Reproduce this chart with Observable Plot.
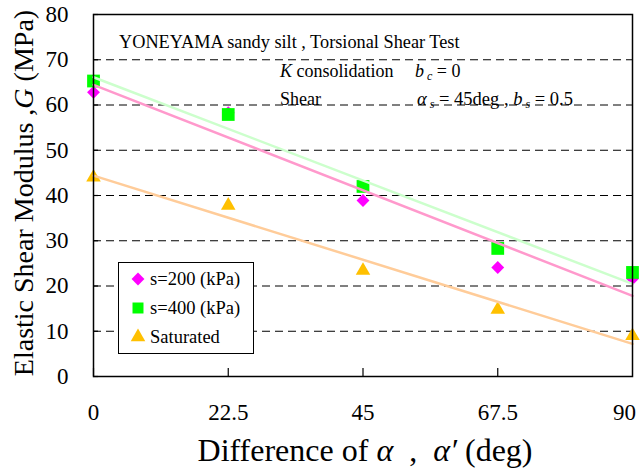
<!DOCTYPE html>
<html>
<head>
<meta charset="utf-8">
<script src="https://cdn.jsdelivr.net/npm/d3@7"></script>
<script src="https://cdn.jsdelivr.net/npm/@observablehq/plot@0.6"></script>
<style>
  html, body { margin: 0; padding: 0; background: white; }
  #chart { position: relative; width: 642px; height: 468px; }
</style>
</head>
<body>
<div id="chart"></div>
<script>
// ---- data ----
const angles = [0, 22.5, 45, 67.5, 90];
const s200 = [62.8, 58.3, 38.9, 24.1, 21.6];
const s400 = [65.3, 57.9, 42.0, 28.3, 23.0];
const saturated = [44.0, 37.8, 23.4, 14.8, 9.0];
const seriesNames = ["s=200 (kPa)", "s=400 (kPa)", "Saturated"];
const yTicks = [0, 10, 20, 30, 40, 50, 60, 70, 80];
const gridLines = [10, 20, 30, 40, 50, 60, 70];
const xTicks = [0, 22.5, 45, 67.5, 90];

const markerColors = ["#FF00FF", "#00FF00", "#FFC000"];
const lineColors = ["#FF99CC", "#CCFFCC", "#FFCC99"];

const seriesValues = [s200, s400, saturated];
const table = [];
seriesNames.forEach((name, i) => {
  angles.forEach((a, j) => table.push({series: name, idx: i, x: a, y: seriesValues[i][j]}));
});
const byName = n => table.filter(d => d.series === n);

const font = "'Liberation Serif', 'Times New Roman', serif";
const lastX = xTicks[xTicks.length - 1];

const plot = Plot.plot({
  width: 642,
  height: 468,
  marginLeft: 93,
  marginRight: 10,
  marginTop: 14,
  marginBottom: 92,
  style: {fontFamily: font, fontSize: "23px", color: "black", background: "white", overflow: "visible"},
  x: {domain: [0, 90], label: null},
  y: {domain: [0, 80], label: null},
  marks: [
    Plot.ruleY(gridLines, {stroke: "black", strokeWidth: 1, strokeDasharray: "8,5"}),
    Plot.axisY(yTicks, {tickSize: -5, tickPadding: 30, tickFormat: d => String(d), strokeWidth: 1.2}),
    Plot.axisX(xTicks.slice(0, -1), {tickSize: -8, tickPadding: 35, tickFormat: d => String(d), strokeWidth: 1.2}),
    Plot.axisX([lastX], {tickSize: 0, tickPadding: 27, tickFormat: d => String(d), dx: -8}),
    // markers: diamonds, triangles, squares
    Plot.dot(byName(seriesNames[0]), {x: "x", y: "y", symbol: "diamond2", r: 5.8, fill: markerColors[0], stroke: "none"}),
    Plot.dot(byName(seriesNames[2]), {x: "x", y: "y", symbol: "triangle", r: 5.4, fill: markerColors[2], stroke: "none"}),
    Plot.dot(byName(seriesNames[1]), {x: "x", y: "y", symbol: "square", r: 7.2, fill: markerColors[1], stroke: "none"}),
    // trend lines
    Plot.linearRegressionY(byName(seriesNames[2]), {x: "x", y: "y", stroke: lineColors[2], strokeWidth: 2.5, ci: 0}),
    Plot.linearRegressionY(byName(seriesNames[1]), {x: "x", y: "y", stroke: lineColors[1], strokeWidth: 2.5, ci: 0}),
    Plot.linearRegressionY(byName(seriesNames[0]), {x: "x", y: "y", stroke: lineColors[0], strokeWidth: 2.5, ci: 0}),
    Plot.frame({stroke: "black", strokeWidth: 1.5})
  ]
});

document.getElementById("chart").appendChild(plot);

// ---- annotations, axis titles, legend ----
const svg = d3.select(plot);
const g = svg.append("g").attr("font-family", font).attr("fill", "black").attr("text-anchor", "start");

// header text
g.append("text").attr("x", 119).attr("y", 48).attr("font-size", 18.3)
  .text("YONEYAMA sandy silt , Torsional Shear Test");

const t1 = g.append("text").attr("x", 280).attr("y", 77).attr("font-size", 18);
t1.append("tspan").attr("font-style", "italic").text("K");
t1.append("tspan").text(" consolidation");

const t2 = g.append("text").attr("x", 415).attr("y", 77).attr("font-size", 18);
t2.append("tspan").attr("font-style", "italic").text("b");
t2.append("tspan").attr("font-style", "italic").attr("font-size", 12).attr("dy", 3).text(" c");
t2.append("tspan").attr("dy", -3).text(" = 0");

g.append("text").attr("x", 280).attr("y", 105).attr("font-size", 18).text("Shear");

const t3 = g.append("text").attr("x", 417).attr("y", 105).attr("font-size", 18.5);
t3.append("tspan").attr("font-style", "italic").text("α");
t3.append("tspan").attr("font-style", "italic").attr("font-size", 12).attr("dy", 3).text(" s");
t3.append("tspan").attr("dy", -3).text(" = 45deg , ");
t3.append("tspan").attr("font-style", "italic").text("b");
t3.append("tspan").attr("font-style", "italic").attr("font-size", 12).attr("dy", 3).text(" s");
t3.append("tspan").attr("dy", -3).text(" = 0.5");

// x axis title
const xt = g.append("text").attr("x", 365).attr("y", 461).attr("font-size", 32).attr("text-anchor", "middle");
xt.append("tspan").text("Difference of ");
xt.append("tspan").attr("font-style", "italic").text("α");
xt.append("tspan").text("  ,  ");
xt.append("tspan").attr("font-style", "italic").text("α′");
xt.append("tspan").text(" (deg)");

// y axis title
const yt = g.append("text").attr("transform", "translate(33,193) rotate(-90)")
  .attr("font-size", 28).attr("text-anchor", "middle");
yt.append("tspan").text("Elastic Shear Modulus ,");
yt.append("tspan").attr("font-style", "italic").text("G");
yt.append("tspan").text(" (MPa)");

// legend
const lg = g.append("g");
lg.append("rect").attr("x", 118.5).attr("y", 262.5).attr("width", 135).attr("height", 91)
  .attr("fill", "white").attr("stroke", "black").attr("stroke-width", 1);
const legSyms = [d3.symbolDiamond2, d3.symbolSquare, d3.symbolTriangle];
const legSizes = [Math.PI * 5.8 * 5.8, Math.PI * 6.2 * 6.2, Math.PI * 5.4 * 5.4];
const rowY = [279, 308, 337];
seriesNames.forEach((name, i) => {
  lg.append("path").attr("d", d3.symbol(legSyms[i], legSizes[i])())
    .attr("transform", `translate(138,${rowY[i]})`).attr("fill", markerColors[i]);
  lg.append("text").attr("x", 150).attr("y", rowY[i] + 6).attr("font-size", 18.5).text(name);
});
</script>
</body>
</html>
